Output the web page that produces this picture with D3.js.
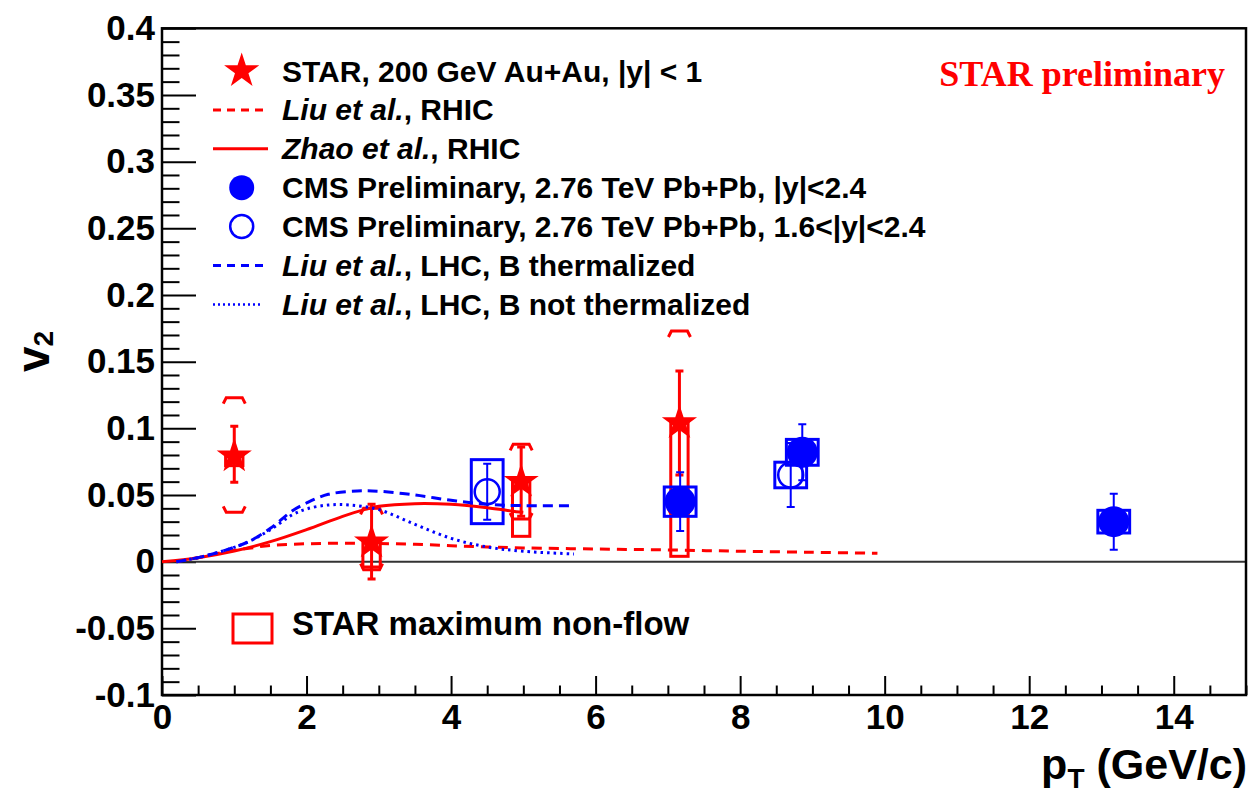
<!DOCTYPE html>
<html><head><meta charset="utf-8">
<script src="https://cdn.jsdelivr.net/npm/d3@7"></script>
<style>
body{margin:0;background:#fff}
svg{display:block}
text{font-family:"Liberation Sans",Arial,Helvetica,sans-serif;font-weight:bold;fill:#000}
</style>
</head><body>
<svg id="chart" width="1250" height="796"></svg>
<script>
// ---- STAR D0 v2, 200 GeV Au+Au, |y|<1 ----
const starPt       = [1.0, 2.9, 4.97, 7.16];
const starV2       = [0.079, 0.0145, 0.060, 0.104];
const starStatLo   = [0.0595, -0.013, 0.034, 0.065];
const starStatHi   = [0.1015, 0.043, 0.086, 0.143];
const starSysLo    = [0.037, -0.006, 0.032, 0.035];
const starSysHi    = [0.123, 0.040, 0.088, 0.173];
const starNonFlowLo = [0.072, -0.004, 0.019, 0.004];   // v2 after subtracting maximum non-flow

// ---- CMS preliminary, 2.76 TeV Pb+Pb, |y|<2.4 ----
const cmsPt   = [7.17, 8.86, 13.17];
const cmsV2   = [0.045, 0.082, 0.030];
const cmsStat = [0.022, 0.021, 0.021];
const cmsSys  = [0.011, 0.0097, 0.0085];

// ---- CMS preliminary, 2.76 TeV Pb+Pb, 1.6<|y|<2.4 ----
const cmsFwdPt   = [4.5, 8.70];
const cmsFwdV2   = [0.0525, 0.065];
const cmsFwdStat = [0.021, 0.024];
const cmsFwdSys  = [0.024, 0.0096];

// ---- model curves: [pT, v2] ----
const liuRhic = [[0.2,0],[0.5,0.003],[0.9,0.0075],[1.2,0.010],[1.5,0.0122],[2.0,0.0134],[2.5,0.0138],
  [3.0,0.0136],[3.5,0.013],[4.0,0.012],[4.5,0.011],[5.0,0.0103],[6.0,0.0095],[7.0,0.0088],
  [8.0,0.0078],[9.0,0.0070],[9.9,0.0063]];
const zhaoRhic = [[0,0],[0.5,0.003],[1.0,0.008],[1.5,0.015],[2.0,0.024],[2.5,0.034],[2.8,0.039],
  [3.0,0.0415],[3.5,0.0435],[4.0,0.043],[4.5,0.0405],[4.9,0.0375],[5.0,0.037]];
const liuLhcTherm = [[0.2,0],[0.5,0.003],[0.9,0.009],[1.2,0.015],[1.5,0.025],[1.8,0.038],[2.0,0.044],
  [2.3,0.0505],[2.7,0.053],[3.0,0.0528],[3.5,0.050],[4.0,0.046],[4.5,0.043],[5.0,0.042],[5.7,0.042]];
const liuLhcNoTherm = [[0.2,0],[0.5,0.003],[0.9,0.009],[1.2,0.015],[1.5,0.024],[1.8,0.035],[2.0,0.0395],
  [2.3,0.0425],[2.6,0.0425],[3.0,0.039],[3.5,0.028],[4.0,0.0175],[4.5,0.011],[5.0,0.0078],[5.7,0.0058]];

// ---- axes ----
const xMajor = [0, 2, 4, 6, 8, 10, 12, 14];
const xLabels = ["0","2","4","6","8","10","12","14"];
const yMajor = [-0.1,-0.05,0,0.05,0.1,0.15,0.2,0.25,0.3,0.35,0.4];
const yLabels = ["-0.1","-0.05","0","0.05","0.1","0.15","0.2","0.25","0.3","0.35","0.4"];

const legendLabels = [
  [["STAR, 200 GeV Au+Au, |y| < 1", false]],
  [["Liu et al.", true], [", RHIC", false]],
  [["Zhao et al.", true], [", RHIC", false]],
  [["CMS Preliminary, 2.76 TeV Pb+Pb, |y|<2.4", false]],
  [["CMS Preliminary, 2.76 TeV Pb+Pb, 1.6<|y|<2.4", false]],
  [["Liu et al.", true], [", LHC, B thermalized", false]],
  [["Liu et al.", true], [", LHC, B not thermalized", false]]
];

const RED = "#ff0000", BLUE = "#0000ff";
const svg = d3.select("#chart");
const x = d3.scaleLinear().domain([0, 15]).range([162, 1246]);
const y = d3.scaleLinear().domain([-0.1, 0.4]).range([695, 28.3]);

// minor ticks
const xMinor = d3.range(0, 15.01, 0.5).filter(v => !xMajor.includes(v));
const yMinor = d3.range(-100, 401, 10).map(v => v / 1000).filter(v => Math.round(v*1000) % 50 !== 0);

function styleAxis(g) {
  g.select(".domain").remove();
  g.selectAll(".tick line").attr("stroke", "#000").attr("stroke-width", 2);
  g.selectAll("text").style("font-size", "35px").attr("fill", "#000");
}

svg.append("g").attr("transform", `translate(${x(0)},0)`)
  .call(d3.axisLeft(y).tickValues(yMinor).tickSize(-17.5).tickFormat(""))
  .call(styleAxis);
svg.append("g").attr("transform", `translate(${x(0)},0)`)
  .call(d3.axisLeft(y).tickValues(yMajor).tickSize(-34).tickPadding(7)
        .tickFormat((d, i) => yLabels[i]))
  .call(styleAxis);
svg.append("g").attr("transform", `translate(0,${y(-0.1)})`)
  .call(d3.axisBottom(x).tickValues(xMinor).tickSize(-9.5).tickFormat(""))
  .call(styleAxis);
svg.append("g").attr("transform", `translate(0,${y(-0.1)})`)
  .call(d3.axisBottom(x).tickValues(xMajor).tickSize(-19).tickPadding(9)
        .tickFormat((d, i) => xLabels[i]))
  .call(styleAxis);

// zero line
svg.append("line").attr("x1", x(0)).attr("x2", x(15)).attr("y1", y(0)).attr("y2", y(0))
  .attr("stroke", "#333").attr("stroke-width", 2);

// frame
svg.append("rect").attr("x", x(0)).attr("y", y(0.4))
  .attr("width", x(15) - x(0)).attr("height", y(-0.1) - y(0.4))
  .attr("fill", "none").attr("stroke", "#000").attr("stroke-width", 2.5);

// axis titles
const yt = svg.append("text").attr("transform", `translate(49,372) rotate(-90)`)
  .style("font-size", "46px");
yt.append("tspan").text("v");
yt.append("tspan").attr("dy", 4).style("font-size", "28px").text("2");

const xt = svg.append("text").attr("x", 1247).attr("y", 779).attr("text-anchor", "end")
  .style("font-size", "43px");
xt.append("tspan").text("p");
xt.append("tspan").attr("dy", 9).style("font-size", "28px").text("T");
xt.append("tspan").attr("dy", -9).text(" (GeV/c)");

svg.append("text").attr("x", 1225).attr("y", 86).attr("text-anchor", "end")
  .style("font-family", "'Liberation Serif','Times New Roman',serif")
  .style("font-size", "36px").attr("fill", RED).style("fill", RED)
  .text("STAR preliminary");

const star = R => d3.symbol(d3.symbolStar, R * R / 0.8908130915292852)();
const starPath = star(18.5);

// ---- STAR points ----
const gStar = svg.append("g");
starPt.forEach((pt, i) => {
  const cx = x(pt);
  // maximum non-flow box
  gStar.append("rect").attr("x", x(pt - 0.12)).attr("width", x(pt + 0.12) - x(pt - 0.12))
    .attr("y", y(starV2[i])).attr("height", y(starNonFlowLo[i]) - y(starV2[i]))
    .attr("fill", "none").attr("stroke", RED).attr("stroke-width", 3);
  // systematic brackets
  const hi = y(starSysHi[i]), lo = y(starSysLo[i]);
  gStar.append("path")
    .attr("d", `M${cx-11},${hi+6} L${cx-8},${hi} L${cx+8},${hi} L${cx+11},${hi+6}` +
               `M${cx-11},${lo-6} L${cx-8},${lo} L${cx+8},${lo} L${cx+11},${lo-6}`)
    .attr("fill", "none").attr("stroke", RED).attr("stroke-width", 3);
  // statistical error
  const sh = y(starStatHi[i]), sl = y(starStatLo[i]);
  gStar.append("path")
    .attr("d", `M${cx},${sh} L${cx},${sl} M${cx-4},${sh} L${cx+4},${sh} M${cx-4},${sl} L${cx+4},${sl}`)
    .attr("stroke", RED).attr("stroke-width", 3).attr("fill", "none");
  gStar.append("path").attr("d", starPath)
    .attr("transform", `translate(${cx},${y(starV2[i])})`).attr("fill", RED);
});

// ---- CMS points ----
function cmsSeries(pts, v2, stat, sys, filled) {
  const g = svg.append("g");
  pts.forEach((pt, i) => {
    const cx = x(pt), cy = y(v2[i]);
    g.append("rect").attr("x", x(pt - 0.22)).attr("width", x(pt + 0.22) - x(pt - 0.22))
      .attr("y", y(v2[i] + sys[i])).attr("height", y(v2[i] - sys[i]) - y(v2[i] + sys[i]))
      .attr("fill", filled ? "none" : "#fff").attr("stroke", BLUE).attr("stroke-width", 3);
    g.append("circle").attr("cx", cx).attr("cy", cy).attr("r", filled ? 15.5 : 12.5)
      .attr("fill", filled ? BLUE : "#fff").attr("stroke", BLUE).attr("stroke-width", filled ? 0 : 2.5);
    const sh = y(v2[i] + stat[i]), sl = y(v2[i] - stat[i]);
    g.append("path")
      .attr("d", `M${cx},${sh} L${cx},${sl} M${cx-4},${sh} L${cx+4},${sh} M${cx-4},${sl} L${cx+4},${sl}`)
      .attr("stroke", BLUE).attr("stroke-width", 2).attr("fill", "none");
  });
}
cmsSeries(cmsFwdPt, cmsFwdV2, cmsFwdStat, cmsFwdSys, false);
cmsSeries(cmsPt, cmsV2, cmsStat, cmsSys, true);

// ---- model curves ----
const line = d3.line().x(d => x(d[0])).y(d => y(d[1])).curve(d3.curveCatmullRom.alpha(0.5));
const curves = [
  [liuRhic, RED, "10,7"],
  [zhaoRhic, RED, null],
  [liuLhcTherm, BLUE, "10,6"],
  [liuLhcNoTherm, BLUE, "2.5,4"]
];
curves.forEach(([data, col, dash]) => {
  svg.append("path").attr("d", line(data)).attr("fill", "none")
    .attr("stroke", col).attr("stroke-width", 3).attr("stroke-dasharray", dash);
});

// ---- legend ----
const lg = svg.append("g");
const symX = 241.7, lineX0 = 213, lineX1 = 268, textX = 282;
const rowY = i => 71 + i * 38.9;
lg.append("path").attr("d", star(18.5)).attr("transform", `translate(${symX},${rowY(0)})`).attr("fill", RED);
lg.append("line").attr("x1", lineX0).attr("x2", lineX1 - 5).attr("y1", rowY(1)).attr("y2", rowY(1))
  .attr("stroke", RED).attr("stroke-width", 3).attr("stroke-dasharray", "8,6");
lg.append("line").attr("x1", lineX0).attr("x2", lineX1).attr("y1", rowY(2)).attr("y2", rowY(2))
  .attr("stroke", RED).attr("stroke-width", 3);
lg.append("circle").attr("cx", symX).attr("cy", rowY(3)).attr("r", 12.5).attr("fill", BLUE);
lg.append("circle").attr("cx", symX).attr("cy", rowY(4)).attr("r", 11.5)
  .attr("fill", "#fff").attr("stroke", BLUE).attr("stroke-width", 2.5);
lg.append("line").attr("x1", lineX0).attr("x2", lineX1 - 5).attr("y1", rowY(5)).attr("y2", rowY(5))
  .attr("stroke", BLUE).attr("stroke-width", 3).attr("stroke-dasharray", "8,6");
lg.append("line").attr("x1", lineX0).attr("x2", lineX1 - 5).attr("y1", rowY(6)).attr("y2", rowY(6))
  .attr("stroke", BLUE).attr("stroke-width", 2.5).attr("stroke-dasharray", "2,3");

legendLabels.forEach((parts, i) => {
  const t = lg.append("text").attr("x", textX).attr("y", rowY(i) + 10.5).style("font-size", "30px");
  parts.forEach(([s, it]) => t.append("tspan").style("font-style", it ? "italic" : "normal").text(s));
});

// non-flow legend
lg.append("rect").attr("x", 233).attr("y", 614).attr("width", 39).attr("height", 29)
  .attr("fill", "none").attr("stroke", RED).attr("stroke-width", 3);
lg.append("text").attr("x", 292).attr("y", 635).style("font-size", "33px").text("STAR maximum non-flow");
</script>
</body></html>
